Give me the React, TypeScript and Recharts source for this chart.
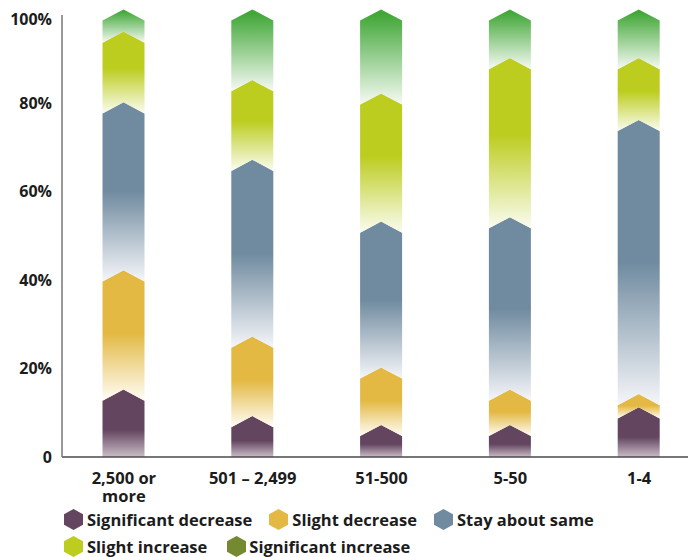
import React from 'react';
import { BarChart, Bar, XAxis, YAxis, Legend, Text } from 'recharts';

const categories = ['2,500 or more', '501 – 2,499', '51-500', '5-50', '1-4'];
const significantDecrease = [14, 8, 6, 6, 10];
const slightDecrease = [27, 18, 13, 8, 3];
const stayAboutSame = [38, 40, 33, 39, 62];
const slightIncrease = [16, 18, 29, 36, 14];
const significantIncrease = [5, 16, 19, 11, 11];
const yTicks = [0, 20, 40, 60, 80, 100];

const FONT = '"Open Sans", Lato, sans-serif';
const INK = '#1c1c1c';
const TIP = 5.6; // half the height of the chevron point

const SERIES = [
  { key: 'sigDec', name: 'Significant decrease', values: significantDecrease, color: '#634560', legend: '#634560', solidTo: 0.6, end: '#cbbcc7' },
  { key: 'sliDec', name: 'Slight decrease', values: slightDecrease, color: '#e3b943', legend: '#e3b943', solidTo: 0.48, end: '#fffdf6' },
  { key: 'same', name: 'Stay about same', values: stayAboutSame, color: '#708ba0', legend: '#708ba0', solidTo: 0.5, end: '#f5f6f9' },
  { key: 'sliInc', name: 'Slight increase', values: slightIncrease, color: '#bccd1f', legend: '#bccd1f', solidTo: 0.45, end: '#fbfcf1' },
  { key: 'sigInc', name: 'Significant increase', values: significantIncrease, color: '#41a737', legend: '#758a30', solidTo: 0.05, end: '#f6faf4' },
];

const rows = categories.map((category, i) => {
  const row: Record<string, string | number> = { category };
  SERIES.forEach((s) => {
    row[s.key] = s.values[i];
  });
  return row;
});

// chevron-topped segment; segments above the first get a notched bottom so they tile
const makeShape = (first: boolean, gradId: string) => (props: any) => {
  const { x, y, width, height } = props;
  if (!height || height <= 0) return null;
  const cx = x + width / 2;
  const b = y + height;
  const d = first
    ? `M${x},${y + TIP} L${cx},${y - TIP} L${x + width},${y + TIP} L${x + width},${b} L${x},${b} Z`
    : `M${x},${y + TIP} L${cx},${y - TIP} L${x + width},${y + TIP} L${x + width},${b + TIP} L${cx},${b - TIP} L${x},${b + TIP} Z`;
  return <path d={d} fill={`url(#${gradId})`} />;
};

const CategoryTick = (props: any) => {
  const { x, y, payload } = props;
  return (
    <Text
      x={x}
      y={y}
      width={104}
      lineHeight={18}
      textAnchor="middle"
      verticalAnchor="start"
      fill={INK}
      style={{ fontFamily: FONT, fontWeight: 700, fontSize: 16.5 }}
    >
      {payload.value}
    </Text>
  );
};

const Hexagon = ({ color }: { color: string }) => (
  <svg width={19} height={21} viewBox="0 0 19 21" style={{ flex: 'none' }}>
    <polygon points="9.5,0 19,5.25 19,15.75 9.5,21 0,15.75 0,5.25" fill={color} />
  </svg>
);

const LegendContent = () => (
  <div
    style={{
      display: 'flex',
      flexWrap: 'wrap',
      alignContent: 'flex-start',
      boxSizing: 'border-box',
      width: 640,
      height: 52,
      paddingLeft: 56,
      paddingTop: 1,
      fontFamily: FONT,
      fontWeight: 700,
      fontSize: 16.5,
      color: INK,
    }}
  >
    {SERIES.map((s, i) => (
      <div
        key={s.key}
        style={{ display: 'flex', alignItems: 'center', height: 27, marginRight: i === 3 ? 20 : 17, gap: i === 4 ? 3 : 4 }}
      >
        <Hexagon color={s.legend} />
        <span>{s.name}</span>
      </div>
    ))}
  </div>
);

export default function App() {
  return (
    <BarChart
      width={688}
      height={549}
      data={rows}
      margin={{ top: 7, right: 0, bottom: 0, left: 0 }}
      barSize={42}
    >
      <defs>
        {SERIES.map((s) => (
          <linearGradient key={s.key} id={`grad-${s.key}`} x1="0" y1="0" x2="0" y2="1">
            <stop offset="0" stopColor={s.color} />
            <stop offset={s.solidTo} stopColor={s.color} />
            <stop offset="1" stopColor={s.end} />
          </linearGradient>
        ))}
      </defs>
      <XAxis
        dataKey="category"
        interval={0}
        height={48}
        padding={{ left: -2.5, right: -7.5 }}
        axisLine={{ stroke: '#4a4a4a', strokeWidth: 1.5 }}
        tickLine={false}
        tickMargin={9}
        tick={<CategoryTick />}
      />
      <YAxis
        width={54}
        domain={[0, 100]}
        ticks={yTicks}
        tickFormatter={(v: number) => (v === 0 ? '0' : `${v}%`)}
        axisLine={{ stroke: '#777', strokeWidth: 1.5 }}
        tickLine={false}
        tickMargin={4}
        tick={{ fontFamily: FONT, fontWeight: 700, fontSize: 16, fill: INK }}
      />
      <Legend
        verticalAlign="bottom"
        content={<LegendContent />}
        wrapperStyle={{ left: 0, width: 688, height: 52 }}
      />
      {SERIES.map((s, i) => (
        <Bar
          key={s.key}
          dataKey={s.key}
          name={s.name}
          stackId="a"
          fill={s.color}
          isAnimationActive={false}
          shape={makeShape(i === 0, `grad-${s.key}`)}
        />
      ))}
    </BarChart>
  );
}
